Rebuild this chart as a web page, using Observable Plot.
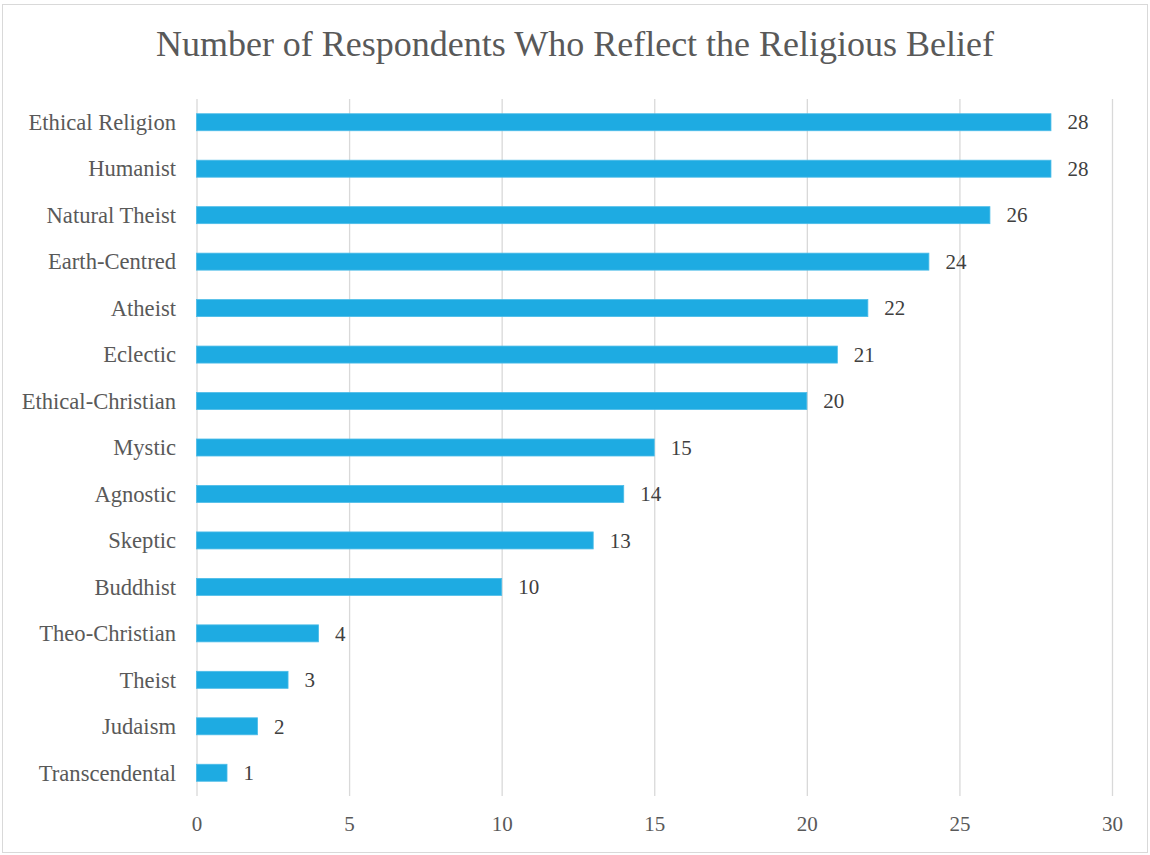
<!DOCTYPE html>
<html>
<head>
<meta charset="utf-8">
<script src="https://cdn.jsdelivr.net/npm/d3@7"></script>
<script src="https://cdn.jsdelivr.net/npm/@observablehq/plot@0.6"></script>
<style>
  html, body { margin: 0; padding: 0; background: #fff; }
  #wrap { position: relative; width: 1150px; height: 855px; overflow: hidden; }
  #frame { position: absolute; left: 2px; top: 4px; width: 1146px; height: 849px; box-sizing: border-box; border: 1px solid #d9d9d9; pointer-events: none; }
  #title { position: absolute; left: 0; top: 0; width: 1150px; text-align: center; font-family: "Liberation Serif", serif; font-size: 36px; color: #595959; line-height: 1; padding-top: 26px; }
  #chart { position: absolute; left: 0; top: 0; }
</style>
</head>
<body>
<div id="wrap">
  <div id="chart"></div>
  <div id="title">Number of Respondents Who Reflect the Religious Belief</div>
  <div id="frame"></div>
</div>
<script>
const categories = ["Ethical Religion", "Humanist", "Natural Theist", "Earth-Centred", "Atheist", "Eclectic", "Ethical-Christian", "Mystic", "Agnostic", "Skeptic", "Buddhist", "Theo-Christian", "Theist", "Judaism", "Transcendental"];
const counts = [28, 28, 26, 24, 22, 21, 20, 15, 14, 13, 10, 4, 3, 2, 1];
const xTicks = [0, 5, 10, 15, 20, 25, 30];

const data = categories.map((c, i) => ({category: c, value: counts[i]}));

const chart = Plot.plot({
  width: 1150,
  height: 855,
  marginLeft: 196.5,
  marginRight: 38,
  marginTop: 99,
  marginBottom: 59,
  style: {background: "transparent", fontFamily: "Liberation Serif, serif", color: "#595959"},
  x: {domain: [0, 30], ticks: xTicks, label: null},
  y: {domain: categories, paddingInner: 0.634, paddingOuter: 0.317, align: 0.5, round: false, label: null},
  marks: [
    Plot.ruleX(xTicks, {stroke: "#d9d9d9", strokeWidth: 1.3}),
    Plot.barX(data, {x: "value", y: "category", fill: "#1eabe2", stroke: "#4cbce8", strokeWidth: 0.8}),
    Plot.text(data, {x: "value", y: "category", text: d => String(d.value), dx: 16, textAnchor: "start", fontSize: 21, fill: "#404040"}),
    Plot.axisX({ticks: xTicks, tickSize: 0, tickPadding: 20, fontSize: 21, anchor: "bottom", label: null, tickFormat: d => String(d), color: "#595959"}),
    Plot.axisY({tickSize: 0, tickPadding: 21, fontSize: 22.6, anchor: "left", label: null, color: "#595959"})
  ]
});
document.getElementById("chart").appendChild(chart);
</script>
</body>
</html>
